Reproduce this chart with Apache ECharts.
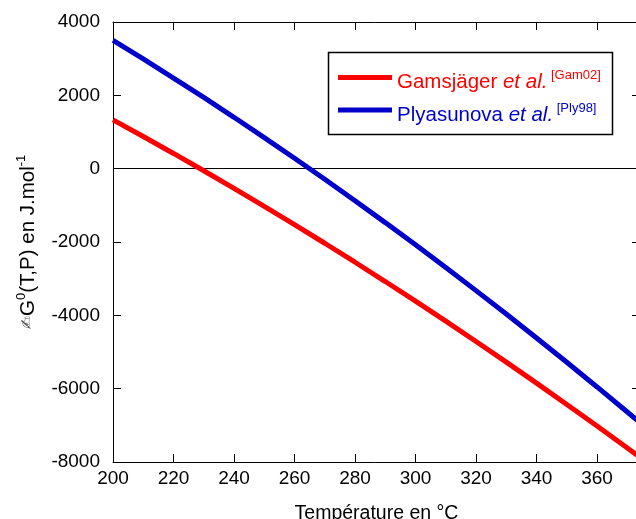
<!DOCTYPE html>
<html>
<head>
<meta charset="utf-8">
<script src="https://cdn.jsdelivr.net/npm/echarts@6/dist/echarts.min.js"></script>
<style>html,body{margin:0;padding:0;background:#fff;}#c{width:636px;height:519px;}</style>
</head>
<body>
<div id="c"></div>
<script>
const temperatures = [200, 210, 220, 230, 240, 250, 260, 270, 280, 290, 300, 310, 320, 330, 340, 350, 360, 370, 374];
const gamsjager = [1330, 877, 415, -57, -537, -1028, -1527, -2034, -2552, -3078, -3614, -4159, -4713, -5276, -5848, -6430, -7020, -7620, -7863];
const plyasunova = [3500, 2992, 2472, 1942, 1401, 848, 285, -290, -874, -1471, -2078, -2696, -3326, -3966, -4617, -5280, -5953, -6637, -6914];
const xTicks = [200, 220, 240, 260, 280, 300, 320, 340, 360];
const yTicks = [-8000, -6000, -4000, -2000, 0, 2000, 4000];

const FONT = 'Liberation Sans, Arial, sans-serif';
const chart = echarts.init(document.getElementById('c'));
const pair = (xs, ys) => xs.map((x, i) => [x, ys[i]]);

const axisCommon = {
  splitLine: { show: false },
  axisLine: { show: true, onZero: false, lineStyle: { color: '#000', width: 1 } },
  axisTick: { show: true, inside: true, length: 8, lineStyle: { color: '#000', width: 1 } }
};

chart.setOption({
  animation: false,
  backgroundColor: '#fff',
  grid: { left: 113, top: 22, right: -4, bottom: 57, containLabel: false, outerBoundsMode: 'none' },
  xAxis: [
    Object.assign({}, axisCommon, {
      type: 'value', position: 'bottom', min: xTicks[0], max: 374.2, interval: 20,
      axisLabel: { show: true, fontSize: 19, color: '#000', fontFamily: FONT, margin: 7, showMaxLabel: false },
      name: 'Température en °C', nameLocation: 'middle', nameGap: 42,
      nameTextStyle: { fontSize: 19.5, color: '#000', fontFamily: FONT }
    }),
    Object.assign({}, axisCommon, {
      type: 'value', position: 'top', min: xTicks[0], max: 374.2, interval: 20,
      axisLabel: { show: false }
    })
  ],
  yAxis: [
    Object.assign({}, axisCommon, {
      type: 'value', position: 'left', min: yTicks[0], max: yTicks[yTicks.length - 1], interval: 2000,
      axisLabel: { show: true, fontSize: 19, color: '#000', fontFamily: FONT, margin: 13,
        formatter: v => String(v) },
      name: '{h|✍}{n|G}{s|0}{n|(T,P) en J.mol}{s|-1}',
      nameLocation: 'middle', nameRotate: 90, nameGap: 72,
      nameTextStyle: {
        fontSize: 20.5, color: '#000', fontFamily: FONT,
        rich: {
          h: { fontSize: 16, color: '#555', fontFamily: 'DejaVu Sans', lineHeight: 26 },
          n: { fontSize: 20.5, color: '#000', fontFamily: FONT, lineHeight: 26 },
          s: { fontSize: 13, color: '#000', fontFamily: FONT, lineHeight: 13, verticalAlign: 'top' }
        }
      }
    }),
    Object.assign({}, axisCommon, {
      type: 'value', position: 'right', min: yTicks[0], max: yTicks[yTicks.length - 1], interval: 2000,
      axisLabel: { show: false }
    })
  ],
  series: [
    {
      name: 'Gamsjäger', type: 'line', data: pair(temperatures, gamsjager),
      showSymbol: false, symbol: 'none', clip: true,
      lineStyle: { color: '#ff0000', width: 5 },
      z: 3,
      markLine: {
        silent: true, symbol: ['none', 'none'], label: { show: false },
        lineStyle: { color: '#000', width: 1, type: 'solid' },
        data: [{ yAxis: 0 }], z: 1
      }
    },
    {
      name: 'Plyasunova', type: 'line', data: pair(temperatures, plyasunova),
      showSymbol: false, symbol: 'none', clip: true,
      lineStyle: { color: '#0000cc', width: 5 },
      z: 4
    }
  ],
  graphic: [
    { type: 'rect', z: 100, shape: { x: 328.5, y: 52.5, width: 284, height: 82 },
      style: { fill: '#fff', stroke: '#000', lineWidth: 1.5 } },
    { type: 'line', z: 101, shape: { x1: 338, y1: 77.5, x2: 392, y2: 77.5 },
      style: { stroke: '#ff0000', lineWidth: 5 } },
    { type: 'line', z: 101, shape: { x1: 338, y1: 110, x2: 392, y2: 110 },
      style: { stroke: '#0000cc', lineWidth: 5 } },
    { type: 'text', z: 101, x: 397, y: 82,
      style: {
        text: '{n|Gamsjäger }{i|et al.}{s| [Gam02]}',
        verticalAlign: 'middle', align: 'left',
        rich: {
          n: { fontSize: 20.5, fill: '#ff0000', fontFamily: FONT, lineHeight: 26 },
          i: { fontSize: 20.5, fill: '#ff0000', fontFamily: FONT, fontStyle: 'italic', lineHeight: 26 },
          s: { fontSize: 13, fill: '#ff0000', fontFamily: FONT, lineHeight: 13, verticalAlign: 'top' }
        }
      } },
    { type: 'text', z: 101, x: 397, y: 115,
      style: {
        text: '{n|Plyasunova }{i|et al.}{s| [Ply98]}',
        verticalAlign: 'middle', align: 'left',
        rich: {
          n: { fontSize: 20.5, fill: '#0000cc', fontFamily: FONT, lineHeight: 26 },
          i: { fontSize: 20.5, fill: '#0000cc', fontFamily: FONT, fontStyle: 'italic', lineHeight: 26 },
          s: { fontSize: 13, fill: '#0000cc', fontFamily: FONT, lineHeight: 13, verticalAlign: 'top' }
        }
      } }
  ]
});
</script>
</body>
</html>
